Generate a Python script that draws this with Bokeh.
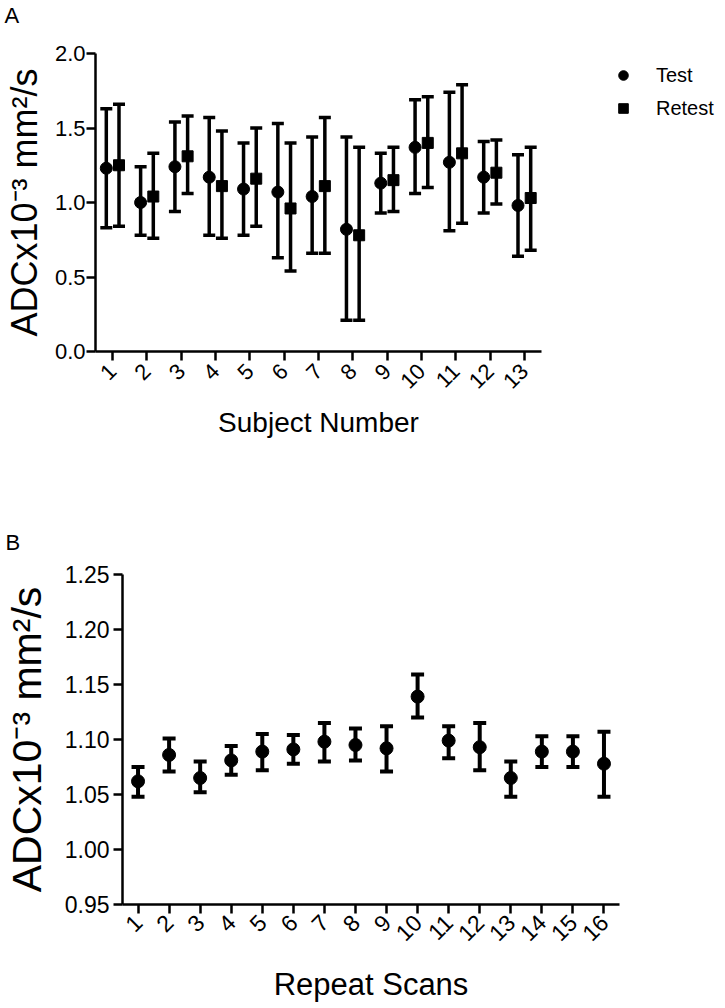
from bokeh.plotting import figure
from bokeh.models import (ColumnDataSource, Whisker, TeeHead, FixedTicker,
                          PrintfTickFormatter, Legend, LegendItem, Range1d, Label)
from bokeh.embed import file_html
from bokeh.resources import INLINE
import math

FONT = "Liberation Sans"

# ---------------- Panel A data ----------------
subjects = list(range(1, 14))
test_mean = [1.23, 1.00, 1.24, 1.17, 1.09, 1.07, 1.04, 0.82, 1.13, 1.37, 1.27, 1.17, 0.98]
test_upper = [1.63, 1.24, 1.54, 1.57, 1.40, 1.53, 1.44, 1.44, 1.33, 1.69, 1.74, 1.41, 1.32]
test_lower = [0.83, 0.78, 0.94, 0.78, 0.78, 0.63, 0.66, 0.21, 0.93, 1.06, 0.81, 0.93, 0.64]
retest_mean = [1.25, 1.04, 1.31, 1.11, 1.16, 0.96, 1.11, 0.78, 1.15, 1.40, 1.33, 1.20, 1.03]
retest_upper = [1.66, 1.33, 1.58, 1.48, 1.50, 1.40, 1.57, 1.37, 1.37, 1.71, 1.79, 1.42, 1.37]
retest_lower = [0.84, 0.76, 1.06, 0.76, 0.84, 0.54, 0.66, 0.21, 0.94, 1.10, 0.86, 0.99, 0.68]
a_yticks = [0.0, 0.5, 1.0, 1.5, 2.0]

# ---------------- Panel B data ----------------
scans = list(range(1, 17))
scan_mean = [1.062, 1.086, 1.065, 1.081, 1.089, 1.091, 1.098, 1.095,
             1.092, 1.139, 1.099, 1.093, 1.065, 1.089, 1.089, 1.078]
scan_upper = [1.075, 1.101, 1.080, 1.094, 1.105, 1.104, 1.115, 1.110,
              1.112, 1.159, 1.112, 1.115, 1.080, 1.103, 1.103, 1.107]
scan_lower = [1.048, 1.071, 1.052, 1.068, 1.072, 1.078, 1.080, 1.081,
              1.071, 1.120, 1.083, 1.072, 1.048, 1.075, 1.075, 1.048]
b_yticks = [0.95, 1.00, 1.05, 1.10, 1.15, 1.20, 1.25]

YLABEL = "ADCx10\u207b\u00b3 mm\u00b2/s"
OFFSET = 0.185


def style_axes(p, tick_font, ylab_font, xlab_font, ytick_standoff, ylab_standoff,
               xtick_standoff, xlab_standoff):
    for ax in (p.xaxis[0], p.yaxis[0]):
        ax.axis_line_color = "black"
        ax.axis_line_width = 2.5
        ax.major_tick_line_color = "black"
        ax.major_tick_line_width = 2.5
        ax.major_tick_out = 9
        ax.major_tick_in = 0
        ax.minor_tick_line_color = None
        ax.major_label_text_font = FONT
        ax.major_label_text_font_size = tick_font
        ax.major_label_text_color = "black"
        ax.axis_label_text_font = FONT
        ax.axis_label_text_font_style = "normal"
        ax.axis_label_text_color = "black"
    p.yaxis[0].major_label_standoff = ytick_standoff
    p.yaxis[0].axis_label_standoff = ylab_standoff
    p.yaxis[0].axis_label_text_font_size = ylab_font
    p.xaxis[0].major_label_standoff = xtick_standoff
    p.xaxis[0].axis_label_standoff = xlab_standoff
    p.xaxis[0].axis_label_text_font_size = xlab_font
    p.xaxis[0].major_label_orientation = math.pi / 4
    p.xgrid.visible = False
    p.ygrid.visible = False
    p.outline_line_color = None


def panel_letter(p, text, x, y, size):
    p.add_layout(Label(x=x, y=y, x_units="screen", y_units="screen", text=text,
                       text_font=FONT, text_font_size=size, text_color="black",
                       text_align="left", text_baseline="alphabetic"), "above")


# ---------------- Figure A ----------------
A_FW, A_FH = 446, 298
pA = figure(frame_width=A_FW, frame_height=A_FH,
            min_border_left=88, min_border_right=175,
            min_border_top=53, min_border_bottom=89,
            x_range=Range1d(0.5, 13.5), y_range=Range1d(0.0, 2.0),
            output_backend="svg", toolbar_location=None,
            x_axis_label="Subject Number", y_axis_label=YLABEL)

srcT = ColumnDataSource(dict(x=[s - OFFSET for s in subjects], y=test_mean,
                             upper=test_upper, lower=test_lower))
srcR = ColumnDataSource(dict(x=[s + OFFSET for s in subjects], y=retest_mean,
                             upper=retest_upper, lower=retest_lower))
for src in (srcT, srcR):
    pA.add_layout(Whisker(source=src, base="x", upper="upper", lower="lower",
                          dimension="height", line_width=3.5, line_color="black",
                          upper_head=TeeHead(size=12, line_width=3.5, line_color="black"),
                          lower_head=TeeHead(size=12, line_width=3.5, line_color="black")))
rT = pA.scatter("x", "y", source=srcT, marker="circle", size=12,
                fill_color="black", line_color="black")
rR = pA.scatter("x", "y", source=srcR, marker="square", size=11,
                fill_color="black", line_color="black")

pA.xaxis[0].ticker = FixedTicker(ticks=subjects, minor_ticks=[])
pA.yaxis[0].ticker = FixedTicker(ticks=a_yticks, minor_ticks=[])
pA.yaxis[0].formatter = PrintfTickFormatter(format="%.1f")
style_axes(pA, "22px", "36px", "28px", 1, 7, 7, 9)

legend = Legend(items=[LegendItem(label="Test", renderers=[rT]),
                       LegendItem(label="Retest", renderers=[rR])],
                location=(70, 231), orientation="vertical",
                glyph_width=24, glyph_height=24, label_height=24,
                spacing=9, padding=0, margin=0, label_standoff=21,
                label_text_font=FONT, label_text_font_size="20px",
                label_text_color="black",
                border_line_color=None, background_fill_alpha=0)
pA.add_layout(legend, "right")
panel_letter(pA, "A", -91, 38, "22px")

# ---------------- Figure B ----------------
B_FW, B_FH = 497, 330
pB = figure(frame_width=B_FW, frame_height=B_FH,
            min_border_left=116, min_border_right=96,
            min_border_top=133, min_border_bottom=100,
            x_range=Range1d(0.5, 16.5), y_range=Range1d(0.95, 1.25),
            output_backend="svg", toolbar_location=None,
            x_axis_label="Repeat Scans", y_axis_label=YLABEL)

srcB = ColumnDataSource(dict(x=scans, y=scan_mean, upper=scan_upper, lower=scan_lower))
pB.add_layout(Whisker(source=srcB, base="x", upper="upper", lower="lower",
                      dimension="height", line_width=4, line_color="black",
                      upper_head=TeeHead(size=13, line_width=4, line_color="black"),
                      lower_head=TeeHead(size=13, line_width=4, line_color="black")))
pB.scatter("x", "y", source=srcB, marker="circle", size=13,
           fill_color="black", line_color="black")

pB.xaxis[0].ticker = FixedTicker(ticks=scans, minor_ticks=[])
pB.yaxis[0].ticker = FixedTicker(ticks=b_yticks, minor_ticks=[])
pB.yaxis[0].formatter = PrintfTickFormatter(format="%.2f")
style_axes(pB, "23px", "41px", "31px", 4, 12, 5, 15)
panel_letter(pB, "B", -117, 32, "22px")

open("out.html", "w").write(file_html([pA, pB], INLINE))
